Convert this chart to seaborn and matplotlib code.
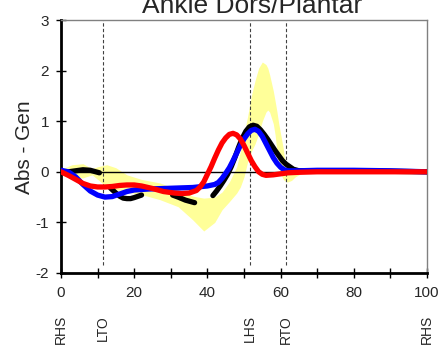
import numpy as np
import pandas as pd
import matplotlib
matplotlib.use('Agg')
import matplotlib.pyplot as plt
import seaborn as sns

# normal band (yellow)
band_x = [0, 3, 6, 8.5, 10, 12.5, 15, 18, 22, 27, 32, 36, 39, 42, 44, 46, 48, 49, 50, 51, 52, 53,
          54, 55, 56, 56.5, 57, 58, 58.5, 59, 59.5, 60, 60.7, 61, 61.7, 62, 63, 64, 66, 70, 100]
band_hi = [0.05, 0.14, 0.16, 0.06, 0.1, 0.14, 0.08, -0.06, -0.15, -0.22, -0.35, -0.48, -0.52, -0.5, -0.4, -0.2, 0.1, 0.4, 0.75, 1.1, 1.5, 1.8,
           2.05, 2.17, 2.12, 2.05, 1.92, 1.6, 1.4, 1.19, 0.95, 0.75, 0.47, 0.3, 0.08, 0.04, 0.03, 0.03, 0.03, 0.03, 0.03]
band_lo = [-0.05, -0.15, -0.12, -0.06, -0.15, -0.3, -0.35, -0.4, -0.45, -0.55, -0.69, -0.95, -1.17, -1.0, -0.75, -0.59, -0.42, -0.3, -0.1, 0.2, 0.4, 0.55,
           0.75, 1.0, 1.18, 1.22, 1.18, 0.95, 0.73, 0.4, 0.1, -0.05, -0.14, -0.17, -0.2, -0.2, -0.17, -0.1, -0.02, -0.02, -0.02]

# black (broken line, one list per piece)
black_segs = [
    ([0, 2, 4, 6, 8, 10.5], [0.0, 0.0, 0.02, 0.04, 0.03, -0.02]),
    ([13.5, 15, 16, 17, 18, 19, 20, 22], [-0.32, -0.42, -0.48, -0.52, -0.53, -0.53, -0.51, -0.46]),
    ([30.5, 32, 34, 36.5], [-0.46, -0.5, -0.56, -0.61]),
    ([41.5, 42.5, 43.5, 44.5, 45.5, 46.5, 47.5, 48.5, 49.5, 50.5, 51.5, 52.5, 53.5, 54.5, 55.5, 56.5,
      57.5, 58.5, 59.5, 60.5, 61.5, 62.5, 63.5, 65, 70, 80, 90, 100],
     [-0.47, -0.38, -0.28, -0.17, -0.05, 0.1, 0.28, 0.48, 0.66, 0.8, 0.89, 0.92, 0.9, 0.83, 0.74, 0.64,
      0.53, 0.42, 0.32, 0.22, 0.15, 0.1, 0.05, 0.02, 0.02, 0.02, 0.01, 0.0]),
]

blue_x = [0, 2, 4, 6, 8, 10, 12, 14, 16, 18, 20, 24, 28, 32, 36, 40, 42, 43, 44, 45, 46, 47, 48, 49, 50,
          51, 52, 53, 54, 55, 56, 57, 58, 59, 60, 61, 62, 65, 70, 80, 90, 100]
blue_y = [0.03, 0.0, -0.1, -0.25, -0.38, -0.46, -0.5, -0.49, -0.44, -0.39, -0.36, -0.34, -0.33, -0.32, -0.31, -0.28, -0.25, -0.21, -0.13, -0.03, 0.08, 0.22, 0.37, 0.52, 0.65,
          0.75, 0.82, 0.84, 0.8, 0.7, 0.56, 0.42, 0.28, 0.17, 0.09, 0.04, 0.02, 0.02, 0.03, 0.03, 0.02, 0.0]

red_x = [0, 2, 4, 6, 8, 10, 12, 14, 16, 18, 20, 22, 25, 28, 31, 33, 35, 37, 38, 39, 40, 41, 42, 43, 44,
         45, 46, 47, 48, 49, 50, 51, 52, 53, 54, 55, 56, 58, 60, 62, 65, 70, 100]
red_y = [0.0, -0.07, -0.15, -0.23, -0.28, -0.3, -0.3, -0.29, -0.27, -0.26, -0.26, -0.28, -0.33, -0.39, -0.42, -0.43, -0.42, -0.37, -0.3, -0.2, -0.05, 0.1, 0.27, 0.43, 0.57,
         0.67, 0.74, 0.76, 0.73, 0.65, 0.52, 0.37, 0.22, 0.1, 0.0, -0.05, -0.07, -0.06, -0.04, -0.02, -0.01, 0.0, 0.0]

events = ['RHS', 'LTO', 'LHS', 'RTO', 'RHS']
event_x = [0, 11.5, 51.7, 61.4, 100]

sns.set_style('white')
plt.rcParams['font.family'] = ['Liberation Sans', 'DejaVu Sans']
plt.rcParams['axes.unicode_minus'] = False

fig = plt.figure(figsize=(4.41, 3.45), dpi=100)
ax = fig.add_axes([61/441, 1-273/345, 366/441, 253/345])

ax.fill_between(band_x, band_lo, band_hi, color='#ffff99', lw=0, zorder=1)
ax.axhline(0, color='black', lw=1, zorder=2)
ax.vlines(event_x[1:4], -1.85, 3, colors='#404040', lw=0.8, linestyles=(0, (3, 2)), zorder=2)

for sx, sy in black_segs:
    sns.lineplot(x=sx, y=sy, ax=ax, color='black', lw=3.8, sort=False, estimator=None,
                 solid_capstyle='round', zorder=3)
sns.lineplot(x=blue_x, y=blue_y, ax=ax, color='blue', lw=3.8, sort=False, estimator=None,
             solid_capstyle='round', zorder=4)
sns.lineplot(x=red_x, y=red_y, ax=ax, color='red', lw=3.8, sort=False, estimator=None,
             solid_capstyle='round', zorder=5)

ax.set_xlim(0, 100)
ax.set_ylim(-2, 3)
ax.set_xticks(range(0, 101, 10))
ax.set_xticklabels([str(v) if v % 20 == 0 else '' for v in range(0, 101, 10)])
ax.set_yticks(range(-2, 4))
ax.tick_params(axis='both', direction='inout', length=7, width=1, labelsize=11, color='black')
ax.tick_params(axis='x', pad=6, bottom=True)
ax.tick_params(axis='y', pad=5, left=True)
ax.set_xlabel('')
ax.set_ylabel('')
for s in ['left', 'bottom']:
    ax.spines[s].set_color('black')
    ax.spines[s].set_linewidth(2)
for s in ['top', 'right']:
    ax.spines[s].set_color('#808080')
    ax.spines[s].set_linewidth(1)

for name, xv in zip(events, event_x):
    ax.text(xv, -0.166, name, transform=ax.get_xaxis_transform(), rotation=90,
            ha='center', va='top', fontsize=10)

# title sits partly above the figure edge, as in the original
fig.text(252/441, 1-13/345, 'Ankle Dors/Plantar', ha='center', va='baseline', fontsize=19)
fig.text(24.5/441, 1-147.5/345, 'Abs - Gen', ha='center', va='center', rotation=90, fontsize=15)

fig.savefig('out.png', dpi=100)
